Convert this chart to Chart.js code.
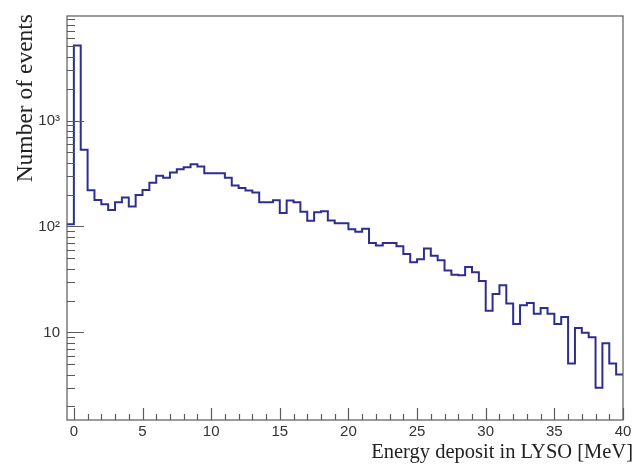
<!DOCTYPE html>
<html>
<head>
<meta charset="utf-8">
<script src="https://cdn.jsdelivr.net/npm/chart.js@4"></script>
<style>
  body { margin: 0; background: #fff; }
  canvas { display: block; }
</style>
</head>
<body>
<canvas id="histo" width="640" height="465"></canvas>
<script>
// Energy deposit in LYSO, 0.5 MeV bins from -0.5 to 40 MeV
const binStart = -0.5;
const binWidth = 0.5;
const counts = [
    105, 5100, 530, 220, 178, 162, 143, 169, 188, 154,
    198, 221, 258, 301, 288, 323, 347, 362, 387, 368,
    318, 318, 318, 289, 243, 231, 219, 209, 169, 169,
    177, 134, 176, 169, 138, 113, 136, 139, 114, 107,
    107, 94, 89, 95, 70, 66, 70, 70, 65, 55,
    46, 49, 62, 53, 48, 38.5, 35, 34.7, 41.5, 37,
    30.5, 16, 23, 27.8, 18.7, 12, 18, 19, 15, 17,
    15, 12, 14, 5.1, 11, 9.9, 9, 3, 7.9, 5.1,
    4
];

const xTickValues = [0, 5, 10, 15, 20, 25, 30, 35, 40];
const yTickValues = [10, 100, 1000];
const yTickLabels = ['10', '10²', '10³'];
const xTitle = 'Energy deposit in LYSO [MeV]';
const yTitle = 'Number of events';

// histogram outline: one point per lower bin edge, plus the last upper edge
const points = counts.map((c, i) => ({ x: binStart + i * binWidth, y: c }));
points.push({ x: binStart + counts.length * binWidth, y: counts[counts.length - 1] });

const frameColor = '#5a5a5a';

// ROOT style frame: box around the pad, ticks drawn inward, titles at the ends
const rootFrame = {
    id: 'rootFrame',
    afterDraw(chart) {
        const ctx = chart.ctx;
        const a = chart.chartArea;
        const xs = chart.scales.x;
        const ys = chart.scales.y;
        ctx.save();
        ctx.strokeStyle = frameColor;
        ctx.lineWidth = 1.2;
        ctx.strokeRect(a.left, a.top, a.right - a.left, a.bottom - a.top);

        ctx.beginPath();
        // x ticks: major every 5, minor every 1
        for (let v = 0; v <= 40; v++) {
            const px = Math.round(xs.getPixelForValue(v)) + 0.5;
            const len = v % 5 === 0 ? 12 : 6;
            ctx.moveTo(px, a.bottom);
            ctx.lineTo(px, a.bottom - len);
        }
        // y ticks: decades major, 2..9 minor
        for (const d of [1, 10, 100, 1000]) {
            for (let m = 1; m <= 9; m++) {
                const v = d * m;
                if (v < ys.min || v > ys.max) continue;
                const py = Math.round(ys.getPixelForValue(v)) + 0.5;
                const len = m === 1 ? 17 : 8;
                ctx.moveTo(a.left, py);
                ctx.lineTo(a.left + len, py);
            }
        }
        ctx.stroke();

        ctx.fillStyle = '#222';
        ctx.textAlign = 'right';
        ctx.textBaseline = 'alphabetic';
        ctx.font = '20.5px "Liberation Serif", serif';
        ctx.fillText(xTitle, 633, 458);

        ctx.font = '23.5px "Liberation Serif", serif';
        ctx.translate(32, 14);
        ctx.rotate(-Math.PI / 2);
        ctx.fillText(yTitle, 0, 0);
        ctx.restore();
    }
};

const ctx = document.getElementById('histo').getContext('2d');
new Chart(ctx, {
    type: 'line',
    data: {
        datasets: [{
            data: points,
            stepped: 'before', // flat at each bin's value up to the next edge
            borderColor: '#2e2e90',
            borderWidth: 2,
            pointRadius: 0,
            fill: false
        }]
    },
    options: {
        responsive: false,
        animation: false,
        layout: { padding: { top: 13, right: 17, left: 0, bottom: 0 } },
        plugins: {
            legend: { display: false },
            tooltip: { enabled: false }
        },
        scales: {
            x: {
                type: 'linear',
                min: binStart,
                max: 40,
                afterFit: (s) => { s.height = 45; },
                afterBuildTicks: (s) => { s.ticks = xTickValues.map(v => ({ value: v })); },
                grid: { display: false, drawTicks: false },
                border: { display: false },
                ticks: {
                    color: '#333',
                    padding: 3,
                    maxRotation: 0,
                    font: { family: '"Liberation Sans", sans-serif', size: 15 }
                }
            },
            y: {
                type: 'logarithmic',
                min: 1.49,
                max: 9700,
                afterFit: (s) => { s.width = 67; },
                afterBuildTicks: (s) => { s.ticks = yTickValues.map(v => ({ value: v })); },
                grid: { display: false, drawTicks: false },
                border: { display: false },
                ticks: {
                    color: '#333',
                    padding: 7,
                    font: { family: '"Liberation Sans", sans-serif', size: 15 },
                    callback: (v) => {
                        const i = yTickValues.indexOf(v);
                        return i >= 0 ? yTickLabels[i] : '';
                    }
                }
            }
        }
    },
    plugins: [rootFrame]
});
</script>
</body>
</html>
